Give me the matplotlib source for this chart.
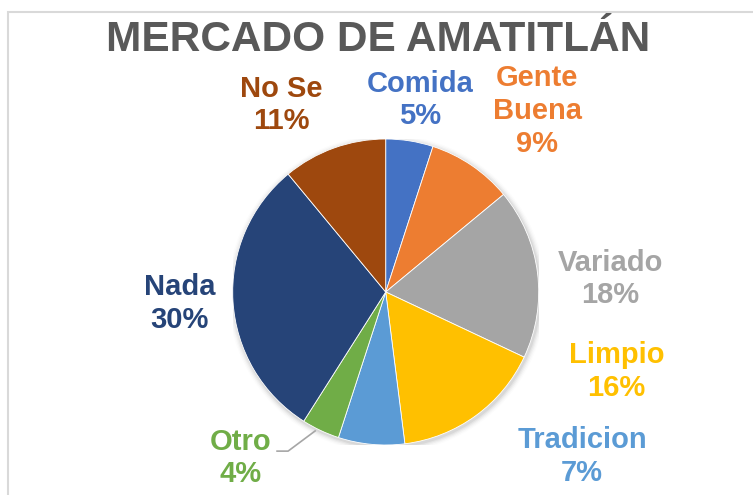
import matplotlib
matplotlib.use("Agg")
import matplotlib.pyplot as plt
from matplotlib.patches import Circle, Rectangle

# ---- data ----
title = "MERCADO DE AMATITLÁN"
categories = ["Comida", "Gente\nBuena", "Variado", "Limpio", "Tradicion", "Otro", "Nada", "No Se"]
values = [5, 9, 18, 16, 7, 4, 30, 11]
colors = ["#4472C4", "#ED7D31", "#A5A5A5", "#FFC000", "#5B9BD5", "#70AD47", "#264478", "#9E480E"]

# label positions (pie-radius units)
label_pos = [(0.227, 1.255), (0.989, 1.183), (1.466, 0.085), (1.51, -0.52),
             (1.283, -1.075), (-0.946, -1.085), (-1.345, -0.075), (-0.681, 1.222)]

W, H = 753, 495
fig = plt.figure(figsize=(W / 100, H / 100), dpi=100)
fig.patch.set_facecolor("white")

# chart border
fig.add_artist(Rectangle((7.5 / W, -0.1), 1.2, 1 - 11.5 / H + 0.1, transform=fig.transFigure,
                         fill=False, edgecolor="#D9D9D9", lw=1.5))

cx, cy, r = 385.7, 292.0, 153.0
ax = fig.add_axes([(cx - r) / W, (H - cy - r) / H, 2 * r / W, 2 * r / H])
ax.set_xlim(-1, 1)
ax.set_ylim(-1, 1)
ax.set_aspect("equal")
ax.axis("off")

# soft shadow
for i, a in enumerate([0.05, 0.04, 0.03, 0.02, 0.012]):
    ax.add_patch(Circle((0.008, -0.012), 1.0 + 0.008 * (i + 1), color="black", alpha=a, lw=0, zorder=0))

wedges, _ = ax.pie(values, colors=colors, startangle=90, counterclock=False, radius=1.0,
                   wedgeprops=dict(edgecolor="white", linewidth=0.6), frame=False)
ax.set_xlim(-1, 1)
ax.set_ylim(-1, 1)

for cat, v, col, (x, y) in zip(categories, values, colors, label_pos):
    ax.text(x, y, f"{cat}\n{v}%", ha="center", va="center", color=col, fontsize=21,
            fontweight="bold", family="Liberation Sans", linespacing=1.22, clip_on=False)

# leader line for Otro
ax.plot([-0.71, -0.638, -0.461], [-1.04, -1.04, -0.908], color="#A6A6A6", lw=1.2, clip_on=False)

fig.text(378 / W, 1 - 40 / H, title, ha="center", va="center", color="#595959",
         fontsize=30.5, fontweight="bold", family="Liberation Sans")

fig.savefig("out.png", dpi=100)
